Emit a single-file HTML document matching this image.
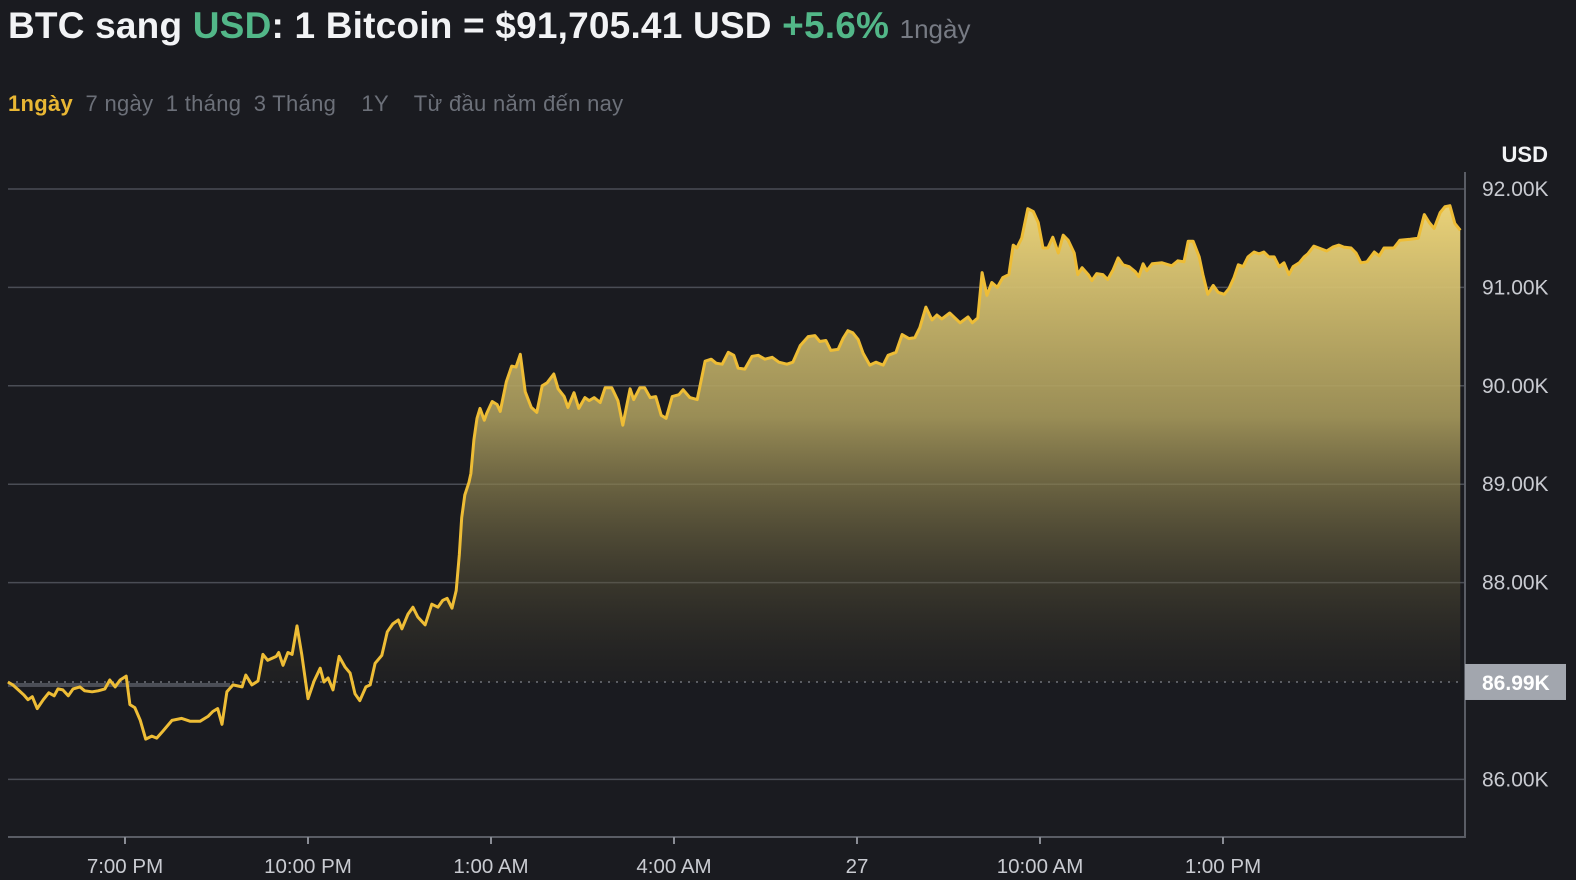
<!DOCTYPE html>
<html><head><meta charset="utf-8">
<style>
html,body{margin:0;padding:0;background:#1a1b20;}
body{width:1576px;height:880px;overflow:hidden;position:relative;font-family:"Liberation Sans","Noto Sans CJK SC",sans-serif;}
#title{position:absolute;left:8px;top:5px;font-size:37px;font-weight:bold;color:#f2f3f5;white-space:nowrap;letter-spacing:0.2px}
#title .g{color:#52b788}
#title .s{color:#777b84;font-size:26px;font-weight:normal;letter-spacing:0}
#tabs{position:absolute;left:8px;top:91px;font-size:22px;color:#6c7079;white-space:nowrap;letter-spacing:0.3px}
#tabs span{margin-right:6px}
#tabs .on{color:#e9b734;font-weight:bold}
svg{position:absolute;left:0;top:0}
</style></head><body>
<div id="title">BTC sang <span class="g">USD</span>: 1 Bitcoin = $91,705.41 USD <span class="g">+5.6%</span> <span class="s">1ngày</span></div>
<div id="tabs"><span class="on">1ngày</span> <span>7 ngày</span> <span>1 tháng</span> <span>3 Tháng</span> &nbsp; <span>1Y</span> &nbsp; <span>Từ đầu năm đến nay</span></div>
<svg id="chart" width="1576" height="880"></svg>
<script>
// hours since 17:00 on day 1
const times=[0.08,.16,.25,.34,.41,.48,.56,.66,.75,.84,.90,.98,1.07,1.15,1.26,1.34,1.46,1.56,1.67,1.75,1.84,1.92,2.02,2.08,2.16,2.25,2.34,2.44,2.52,2.62,2.77,2.93,3.07,3.23,3.36,3.44,3.52,3.59,3.67,3.77,3.92,3.98,4.08,4.18,4.26,4.34,4.48,4.52,4.59,4.67,4.74,4.82,4.90,5.00,5.10,5.20,5.26,5.33,5.41,5.51,5.61,5.69,5.77,5.85,5.95,6.02,6.10,6.21,6.30,6.39,6.48,6.54,6.64,6.72,6.80,6.92,7.03,7.13,7.21,7.28,7.36,7.43,7.48,7.52,7.57,7.64,7.67,7.72,7.77,7.82,7.89,7.93,8.02,8.10,8.15,8.25,8.34,8.41,8.48,8.56,8.66,8.75,8.84,8.92,9.03,9.10,9.20,9.26,9.36,9.44,9.54,9.61,9.69,9.79,9.87,9.98,10.08,10.16,10.28,10.34,10.44,10.52,10.61,10.70,10.79,10.87,10.97,11.08,11.15,11.26,11.38,11.51,11.61,11.69,11.79,11.89,11.98,12.05,12.16,12.28,12.38,12.49,12.61,12.72,12.85,12.95,13.07,13.20,13.31,13.39,13.49,13.57,13.69,13.77,13.85,13.93,14.02,14.10,14.21,14.31,14.43,14.51,14.64,14.74,14.85,14.95,15.03,15.13,15.23,15.31,15.39,15.52,15.69,15.82,15.89,15.98,16.05,16.13,16.21,16.30,16.39,16.49,16.56,16.62,16.70,16.80,16.89,16.97,17.05,17.13,17.21,17.30,17.38,17.46,17.56,17.62,17.69,17.79,17.85,17.93,18.03,18.11,18.20,18.28,18.36,18.46,18.56,18.62,18.69,18.75,18.84,19.00,19.16,19.26,19.36,19.43,19.51,19.61,19.67,19.75,19.84,19.92,20.02,20.10,20.18,20.25,20.33,20.41,20.51,20.59,20.67,20.75,20.84,20.92,21.00,21.08,21.15,21.25,21.33,21.39,21.49,21.57,21.70,21.80,21.90,21.98,22.10,22.18,22.26,22.36,22.48,22.56,22.64,22.80,22.90,23.07,23.20,23.30,23.38,23.46,23.56,23.64,23.72,23.80,23.89];
const prices=[86.99,86.96,86.91,86.86,86.81,86.84,86.72,86.81,86.88,86.85,86.92,86.91,86.85,86.92,86.94,86.90,86.89,86.90,86.92,87.01,86.94,87.01,87.05,86.76,86.73,86.60,86.41,86.44,86.42,86.49,86.60,86.62,86.59,86.59,86.64,86.69,86.72,86.56,86.89,86.96,86.94,87.06,86.96,87.00,87.27,87.21,87.25,87.29,87.16,87.29,87.27,87.56,87.26,86.82,87.00,87.13,86.99,87.03,86.91,87.25,87.14,87.08,86.87,86.80,86.94,86.96,87.18,87.26,87.50,87.58,87.62,87.53,87.68,87.75,87.65,87.57,87.78,87.75,87.82,87.84,87.74,87.92,88.28,88.66,88.89,89.02,89.11,89.45,89.67,89.77,89.65,89.72,89.84,89.81,89.74,90.04,90.20,90.19,90.32,89.94,89.78,89.73,90.00,90.03,90.12,89.97,89.89,89.78,89.93,89.77,89.88,89.85,89.88,89.83,89.98,89.98,89.85,89.60,89.97,89.86,89.98,89.98,89.88,89.89,89.70,89.67,89.89,89.91,89.96,89.88,89.86,90.25,90.27,90.23,90.22,90.34,90.31,90.18,90.17,90.30,90.31,90.27,90.29,90.24,90.22,90.24,90.41,90.50,90.51,90.45,90.46,90.36,90.37,90.48,90.56,90.54,90.47,90.33,90.21,90.24,90.21,90.31,90.34,90.52,90.48,90.49,90.59,90.80,90.67,90.72,90.68,90.74,90.64,90.70,90.64,90.69,91.15,90.92,91.05,91.00,91.10,91.13,91.43,91.40,91.50,91.80,91.77,91.66,91.40,91.40,91.51,91.35,91.53,91.48,91.35,91.13,91.20,91.13,91.07,91.14,91.13,91.08,91.18,91.30,91.23,91.21,91.16,91.11,91.24,91.17,91.24,91.25,91.22,91.27,91.26,91.47,91.47,91.31,91.13,90.93,91.02,90.95,90.93,90.99,91.10,91.23,91.21,91.31,91.36,91.34,91.36,91.31,91.31,91.21,91.25,91.13,91.21,91.25,91.31,91.34,91.42,91.40,91.37,91.41,91.43,91.41,91.40,91.35,91.25,91.26,91.36,91.32,91.40,91.40,91.48,91.49,91.50,91.74,91.66,91.60,91.76,91.82,91.83,91.65,91.58];
const yTicks=[86,88,89,90,91,92];
const yTickLabels=["86.00K","88.00K","89.00K","90.00K","91.00K","92.00K"];
const xTicks=[2,5,8,11,14,17,20];
const xTickLabels=["7:00 PM","10:00 PM","1:00 AM","4:00 AM","27","10:00 AM","1:00 PM"];
const openPrice=86.99;
const openLabel="86.99K";

const NS="http://www.w3.org/2000/svg";
const svg=document.getElementById('chart');
const X=t=>3+t*61;
const Y=p=>189+(92-p)*98.4;
function mk(tag,attrs){const e=document.createElementNS(NS,tag);for(const k in attrs)e.setAttribute(k,attrs[k]);svg.appendChild(e);return e;}

const defs=document.createElementNS(NS,'defs');
defs.innerHTML='<linearGradient id="fillg" gradientUnits="userSpaceOnUse" x1="0" y1="200" x2="0" y2="'+Y(openPrice)+'"><stop offset="0" stop-color="#f2d97c" stop-opacity="0.97"/><stop offset="0.45" stop-color="#a89a5c" stop-opacity="0.9"/><stop offset="1" stop-color="#3a3628" stop-opacity="0.15"/></linearGradient><clipPath id="above"><rect x="0" y="0" width="1576" height="'+Y(openPrice)+'"/></clipPath>';
svg.appendChild(defs);

yTicks.forEach((v,i)=>{
  const g=mk('line',{x1:8,x2:1465,y1:Y(v),y2:Y(v),stroke:'#4a4d55','stroke-width':1.5});
  
  
  const t=mk('text',{x:1482,y:Y(v)+7,fill:'#c9cbd1','font-size':21,'font-family':'Liberation Sans, sans-serif'});
  t.textContent=yTickLabels[i];
  
  
});

let d='M'+X(times[0])+','+Y(openPrice);
times.forEach((t,i)=>{d+=' L'+X(t).toFixed(1)+','+Y(prices[i]).toFixed(1);});
d+=' L'+X(times[times.length-1])+','+Y(openPrice)+' Z';
const area=mk('path',{d:d,fill:'url(#fillg)','clip-path':'url(#above)'});



const band=mk('rect',{x:8,y:Y(openPrice)+1,width:222,height:4,fill:'#4b4e56'});



const base=mk('line',{x1:8,x2:1465,y1:Y(openPrice),y2:Y(openPrice),stroke:'#9a9ea6','stroke-width':1,'stroke-dasharray':'2 6'});



let ld='';
times.forEach((t,i)=>{ld+=(i?' L':'M')+X(t).toFixed(1)+','+Y(prices[i]).toFixed(1);});
const line=mk('path',{d:ld,fill:'none',stroke:'#eebd36','stroke-width':3,'stroke-linejoin':'round'});



const ax=mk('line',{x1:8,x2:1466,y1:837,y2:837,stroke:'#5a5d65','stroke-width':2});


const ay=mk('line',{x1:1465,x2:1465,y1:172,y2:838,stroke:'#5a5d65','stroke-width':2});



xTicks.forEach((v,i)=>{
  const tk=mk('line',{x1:X(v),x2:X(v),y1:837,y2:844,stroke:'#8a8d95','stroke-width':2});
  
  
  const t=mk('text',{x:X(v),y:873,fill:'#c9cbd1','font-size':20.5,'text-anchor':'middle','font-family':'Liberation Sans, sans-serif'});
  t.textContent=xTickLabels[i];
  
  
});

const box=mk('rect',{x:1465,y:Y(openPrice)-18,width:101,height:36,fill:'#a2a6ae'});


const bt=mk('text',{x:1482,y:Y(openPrice)+8,fill:'#ffffff','font-size':21,'font-weight':'bold','font-family':'Liberation Sans, sans-serif'});
bt.textContent=openLabel;



const u=mk('text',{x:1548,y:162,fill:'#f2f3f5','font-size':22,'font-weight':'bold','text-anchor':'end','font-family':'Liberation Sans, sans-serif'});
u.textContent='USD';


</script>
</body></html>
